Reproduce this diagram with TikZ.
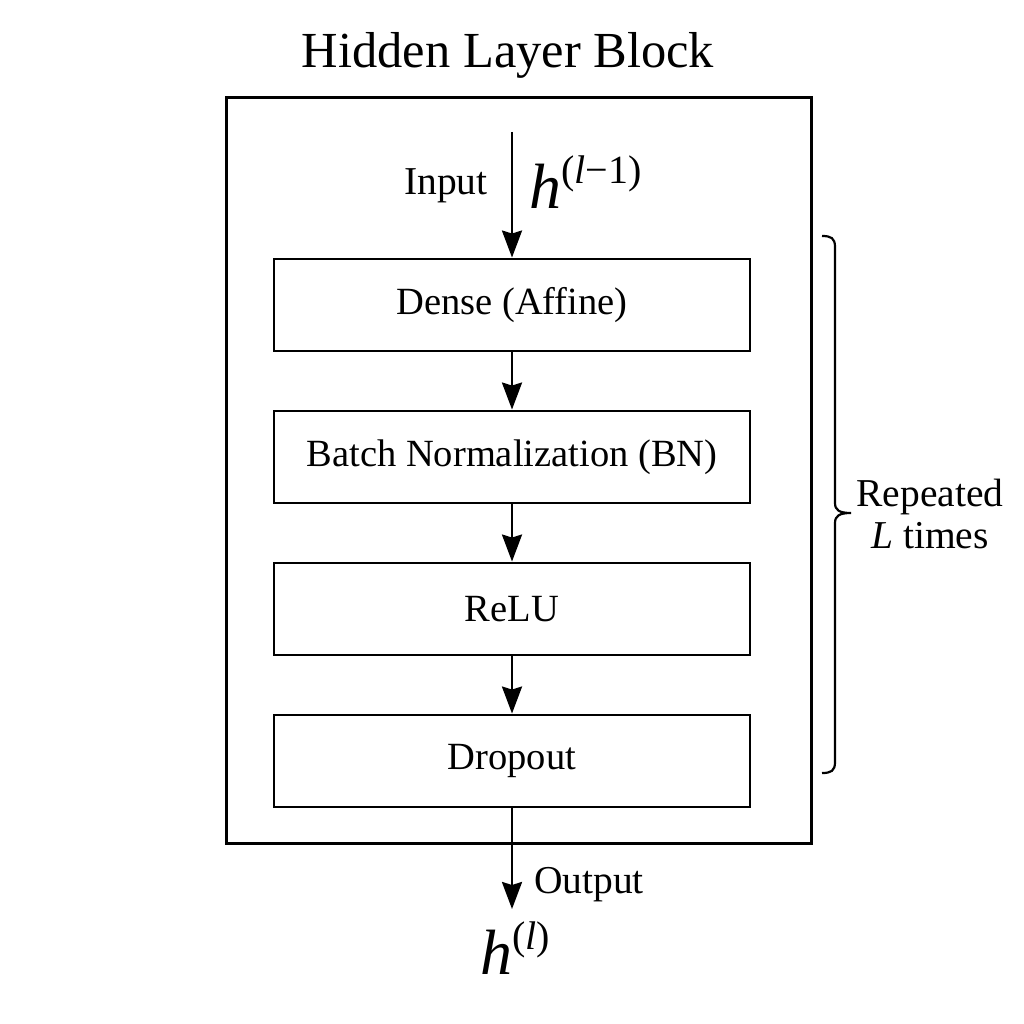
\documentclass[tikz,border=0pt]{standalone}
\usepackage{fontspec}
\setmainfont{Liberation Serif}
\usetikzlibrary{arrows.meta}
\begin{document}
\begin{tikzpicture}[x=1pt,y=-1pt,
  layerbox/.style={draw,line width=2.9pt,minimum width=476pt,minimum height=92pt,inner sep=0pt,font=\fontsize{38.5}{40}\selectfont},
  flow/.style={line width=2.5pt,-{Stealth[length=27pt,width=20pt,inset=3pt]}},
  lbl/.style={font=\fontsize{39.5}{42}\selectfont,inner sep=0pt}]
\useasboundingbox[fill=white] (0,0) rectangle (1024,1024);
\node[font=\fontsize{50.5}{52}\selectfont,inner sep=0pt] (title) at (508,55) {Hidden Layer Block};
\node[draw,line width=3pt,minimum width=585pt,minimum height=745pt,inner sep=0pt] (block) at (518.5,470.5) {};
\node[layerbox] (dense) at (512,305) {Dense (Affine)};
\node[layerbox] (bn) at (512,457) {Batch Normalization (BN)};
\node[layerbox] (relu) at (512,609) {ReLU};
\node[layerbox] (drop) at (512,761) {Dropout};
\coordinate (in) at (512,132);
\coordinate (out) at (512,909);
\draw[flow] (in) -- (dense.north);
\draw[flow] (dense) -- (bn);
\draw[flow] (bn) -- (relu);
\draw[flow] (relu) -- (drop);
\draw[flow] (drop.south) -- (out);
\node[lbl] (inlbl) at (446,186) {Input};
\node[inner sep=0pt,anchor=west] (hin) at (529,182) {\fontsize{64}{64}\selectfont\textit{h}\raisebox{0.4em}{\fontsize{40}{42}\selectfont(\textit{l}−1)}};
\node[lbl,anchor=west] (outlbl) at (534,885) {Output};
\node[inner sep=0pt] (hout) at (515,948) {\fontsize{64}{64}\selectfont\textit{h}\raisebox{0.4em}{\fontsize{40}{42}\selectfont(\textit{l})}};
\coordinate (btop) at (822,236);
\coordinate (bbot) at (822,773);
\coordinate (btip) at (851,513);
\draw[line width=2.2pt] (btop) .. controls (831,236) and (835,238) .. (835,247)
  -- (835,503) .. controls (835,510) and (839,513) .. (btip)
  .. controls (839,513) and (835,516) .. (835,523)
  -- (835,762) .. controls (835,771) and (831,773) .. (bbot);
\node[lbl,align=center] (rep) at (930,514) {Repeated\\\textit{L} times};
\end{tikzpicture}
\end{document}
